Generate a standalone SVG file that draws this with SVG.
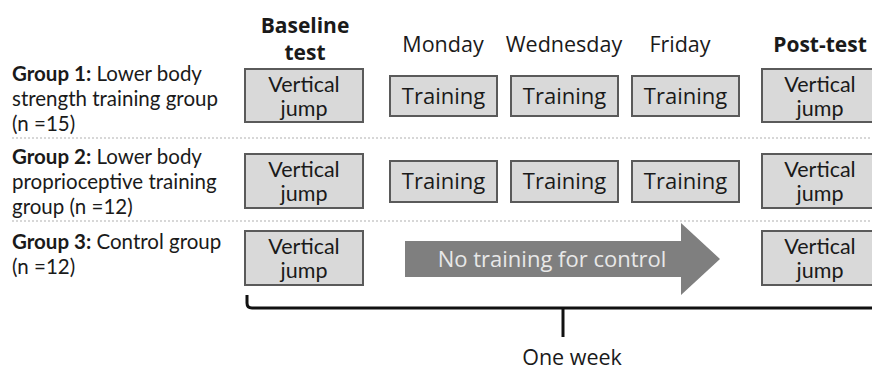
<svg xmlns="http://www.w3.org/2000/svg" width="872" height="371" viewBox="0 0 872 371">
<style>
text{font-family:"Open Sans","Noto Sans","Liberation Sans",sans-serif;fill:#1a1a1a}
.h{font-size:21.5px;text-anchor:middle}
.hb{font-size:21px;font-weight:bold;text-anchor:middle}
.g{font-family:Lato,"Open Sans",sans-serif;font-size:20.5px}
.b{font-family:Lato,"Open Sans",sans-serif;font-size:21.5px;text-anchor:middle}
.t{font-size:22px;text-anchor:middle}
.box{fill:#d9d9d9;stroke:#5a5a5a;stroke-width:2}
.sep{stroke:#b0b0b0;stroke-width:1.2;stroke-dasharray:2 2}
</style>
<rect width="872" height="371" fill="#fff"/>
<g id="headers">
<text class="hb" x="305" y="33">Baseline</text>
<text class="hb" x="305" y="60">test</text>
<text class="h" x="443" y="52">Monday</text>
<text class="h" x="564" y="52">Wednesday</text>
<text class="h" x="680" y="52">Friday</text>
<text class="hb" x="820" y="52">Post-test</text>
</g>
<g id="separators">
<line class="sep" x1="12" y1="138" x2="872" y2="138"/>
<line class="sep" x1="12" y1="221" x2="872" y2="221"/>
</g>
<g id="group1-label">
<text class="g" x="12" y="81"><tspan font-weight="bold">Group 1:</tspan> Lower body</text>
<text class="g" x="12" y="106">strength training group</text>
<text class="g" x="12" y="131">(n =15)</text>
</g>
<g id="group2-label">
<text class="g" x="12" y="164"><tspan font-weight="bold">Group 2:</tspan> Lower body</text>
<text class="g" x="12" y="189">proprioceptive training</text>
<text class="g" x="12" y="214">group (n =12)</text>
</g>
<g id="group3-label">
<text class="g" x="12" y="249"><tspan font-weight="bold">Group 3:</tspan> Control group</text>
<text class="g" x="12" y="274">(n =12)</text>
</g>
<g id="g1-baseline"><rect class="box" x="245" y="69" width="118" height="53"/><text class="b" x="304" y="92">Vertical</text><text class="b" x="304" y="116">jump</text></g>
<g id="g1-mon"><rect class="box" x="390" y="76" width="107" height="40"/><text class="t" x="443.5" y="104">Training</text></g>
<g id="g1-wed"><rect class="box" x="511" y="76" width="107" height="40"/><text class="t" x="564.5" y="104">Training</text></g>
<g id="g1-fri"><rect class="box" x="632" y="76" width="107" height="40"/><text class="t" x="685.5" y="104">Training</text></g>
<g id="g1-post"><rect class="box" x="762" y="69" width="118" height="53"/><text class="b" x="820" y="92">Vertical</text><text class="b" x="820" y="116">jump</text></g>
<g id="g2-baseline"><rect class="box" x="245" y="154" width="118" height="54"/><text class="b" x="304" y="177">Vertical</text><text class="b" x="304" y="201">jump</text></g>
<g id="g2-mon"><rect class="box" x="390" y="161" width="107" height="41"/><text class="t" x="443.5" y="189">Training</text></g>
<g id="g2-wed"><rect class="box" x="511" y="161" width="107" height="41"/><text class="t" x="564.5" y="189">Training</text></g>
<g id="g2-fri"><rect class="box" x="632" y="161" width="107" height="41"/><text class="t" x="685.5" y="189">Training</text></g>
<g id="g2-post"><rect class="box" x="762" y="154" width="118" height="54"/><text class="b" x="820" y="177">Vertical</text><text class="b" x="820" y="201">jump</text></g>
<g id="g3-baseline"><rect class="box" x="245" y="231" width="118" height="54"/><text class="b" x="304" y="254">Vertical</text><text class="b" x="304" y="278">jump</text></g>
<g id="g3-arrow"><polygon points="405,241 681,241 681,223 720,259 681,295 681,277 405,277" fill="#7f7f7f"/><text x="552" y="267" font-size="22" text-anchor="middle" style="fill:#e8e8e8">No training for control</text></g>
<g id="g3-post"><rect class="box" x="762" y="231" width="118" height="54"/><text class="b" x="820" y="254">Vertical</text><text class="b" x="820" y="278">jump</text></g>
<g id="connectors">
<path d="M247,295 V303 Q247,308 252,308 H872" fill="none" stroke="#111" stroke-width="3"/>
<line x1="563" y1="308" x2="563" y2="337" stroke="#111" stroke-width="3"/>
</g>
<g id="one-week"><text class="h" x="572" y="365">One week</text></g>
</svg>
